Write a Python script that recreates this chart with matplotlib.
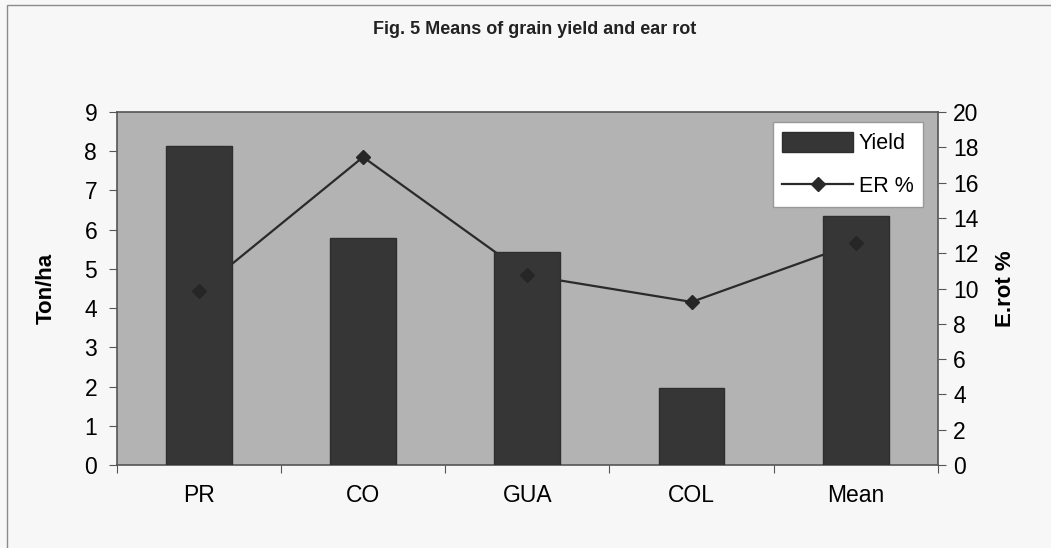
import matplotlib
matplotlib.use("Agg")
import matplotlib.pyplot as plt
import numpy as np
from matplotlib.patches import Rectangle
from matplotlib.lines import Line2D
from matplotlib.patches import Patch

categories = ["PR", "CO", "GUA", "COL", "Mean"]
yield_ton_ha = [8.14, 5.79, 5.43, 1.96, 6.35]
ear_rot_pct = [9.86, 17.45, 10.76, 9.24, 12.58]
left_ticks = list(range(0, 10))
right_ticks = list(range(0, 21, 2))

plt.rcParams['font.family'] = ['Liberation Sans', 'DejaVu Sans']

fig = plt.figure(figsize=(10.51, 5.48), dpi=100)
fig.patch.set_facecolor('#f7f7f7')
fig.patches.append(Rectangle((0.007, -0.01), 1.5, 1.0, transform=fig.transFigure,
                             fill=False, edgecolor='#8a8a8a', linewidth=1.0))

pos = [0.111, 0.1515, 0.7815, 0.644]
x = np.arange(len(categories))

# bottom layer: ER line (secondary scale) drawn behind bars
ax_line = fig.add_axes(pos)
ax_line.set_facecolor('#b3b3b3')
ax_line.plot(x, ear_rot_pct, color='#2a2a2a', lw=1.6, zorder=2)
ax_line.set_ylim(0, 20)
ax_line.set_xlim(-0.5, len(categories) - 0.5)
ax_line.set_xticks(np.arange(len(categories) + 1) - 0.5, minor=True)
ax_line.set_xticks(x)
ax_line.set_xticklabels(categories, fontsize=16.5)
ax_line.tick_params(axis='x', which='major', length=0, pad=14)
ax_line.tick_params(axis='x', which='minor', direction='out', length=6, width=0.8, color='#555555')
for s in ax_line.spines.values():
    s.set_color('#555555')
    s.set_linewidth(1.2)

# bars with the left axis
ax_bar = ax_line.twinx()
# top layer: ER markers
ax_mk = ax_line.twinx()

ax_bar.bar(x, yield_ton_ha, width=0.4, color='#363636', edgecolor='#2e2e2e', zorder=3)
ax_bar.set_ylim(0, 9)
ax_bar.yaxis.tick_left()
ax_bar.yaxis.set_label_position('left')
ax_bar.set_yticks(left_ticks)
ax_bar.set_yticklabels([str(t) for t in left_ticks])
ax_bar.set_ylabel('Ton/ha', fontsize=16, fontweight='bold', labelpad=20)
ax_bar.tick_params(axis='y', direction='out', length=6, width=0.8, color='#555555',
                   labelsize=16.5, pad=8, left=True, right=False, labelleft=True, labelright=False)
for s in ax_bar.spines.values():
    s.set_visible(False)

ax_line.yaxis.tick_right()
ax_line.yaxis.set_label_position('right')
ax_line.set_yticks(right_ticks)
ax_line.set_yticklabels([str(t) for t in right_ticks])
ax_line.set_ylabel('E.rot %', fontsize=16, fontweight='bold', labelpad=12)
ax_line.tick_params(axis='y', direction='out', length=6, width=0.8, color='#555555',
                    labelsize=16.5, pad=5, left=False, right=True, labelleft=False, labelright=True)

ax_mk.plot(x, ear_rot_pct, linestyle='none', marker='D', markersize=7,
           color='#262626', zorder=4)
ax_mk.set_ylim(0, 20)
ax_mk.set_yticks([])
ax_mk.tick_params(axis='y', left=False, right=False, labelleft=False, labelright=False)
for s in ax_mk.spines.values():
    s.set_visible(False)

handles = [Patch(facecolor='#363636', edgecolor='#2e2e2e'),
           Line2D([0], [0], color='#2a2a2a', lw=1.6, marker='D', markersize=7)]
leg = ax_mk.legend(handles, ['Yield', 'ER %'], loc='upper right',
                   bbox_to_anchor=(0.982, 0.972), borderaxespad=0.0, fontsize=15.5,
                   frameon=True, fancybox=False, handlelength=3.3, handleheight=1.1,
                   handletextpad=0.25, borderpad=0.45, labelspacing=0.95)
leg.get_frame().set_facecolor('white')
leg.get_frame().set_edgecolor('#999999')
leg.get_frame().set_alpha(1.0)

fig.text(0.509, 0.946, 'Fig. 5 Means of grain yield and ear rot', ha='center', va='center',
         fontsize=13, fontweight='bold', color='#222222')

fig.savefig('out.png', dpi=100, facecolor=fig.get_facecolor())
